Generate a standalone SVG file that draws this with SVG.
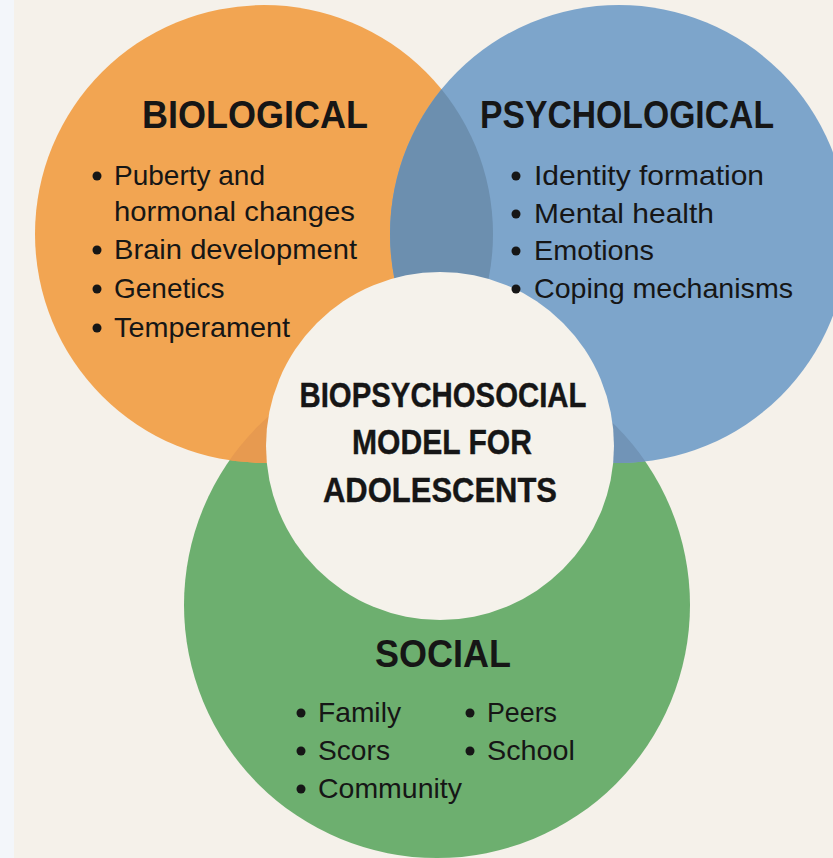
<svg xmlns="http://www.w3.org/2000/svg" width="833" height="858" viewBox="0 0 833 858">
  <style>
    .head { font-family: "Liberation Sans", Arial, sans-serif; font-weight: 700; fill: #161616; }
    .item { font-family: "Liberation Sans", Arial, sans-serif; font-size: 28px; fill: #161616; }
    .core { font-family: "Liberation Sans", Arial, sans-serif; font-weight: 700; font-size: 35px; fill: #161616; stroke: #161616; stroke-width: 0.4; }
    .dot { fill: #161616; }
  </style>
  <defs>
    <clipPath id="clipBio"><circle cx="264" cy="234" r="229"/></clipPath>
    <clipPath id="clipPsy"><circle cx="619" cy="234" r="229"/></clipPath>
  </defs>

  <!-- page -->
  <rect x="0" y="0" width="833" height="858" fill="#F5F1EA"/>
  <rect x="0" y="0" width="14" height="858" fill="#F3F6FA"/>

  <!-- social circle -->
  <g id="social-circle">
    <circle cx="437" cy="605" r="253" fill="#6DAF6F"/>
  </g>

  <!-- biological circle -->
  <g id="biological-circle">
    <circle cx="264" cy="234" r="229" fill="#F2A552"/>
  </g>

  <!-- psychological circle -->
  <g id="psychological-circle">
    <circle cx="619" cy="234" r="229" fill="#7DA5CB"/>
  </g>

  <!-- overlap lenses -->
  <g id="overlaps">
    <circle cx="619" cy="234" r="229" fill="#6C8FAF" clip-path="url(#clipBio)"/>
    <circle cx="437" cy="605" r="253" fill="#E79A50" clip-path="url(#clipBio)"/>
    <circle cx="437" cy="605" r="253" fill="#7194B7" clip-path="url(#clipPsy)"/>
  </g>

  <!-- centre -->
  <g id="center">
    <circle cx="440" cy="446" r="174" fill="#F5F2EB"/>
    <text class="core" x="443" y="407" text-anchor="middle" textLength="287" lengthAdjust="spacingAndGlyphs">BIOPSYCHOSOCIAL</text>
    <text class="core" x="442" y="454" text-anchor="middle" textLength="180" lengthAdjust="spacingAndGlyphs">MODEL FOR</text>
    <text class="core" x="440" y="502" text-anchor="middle" textLength="234" lengthAdjust="spacingAndGlyphs">ADOLESCENTS</text>
  </g>

  <!-- biological labels -->
  <g id="biological">
    <text class="head" x="255" y="128" font-size="38" text-anchor="middle" textLength="226" lengthAdjust="spacingAndGlyphs">BIOLOGICAL</text>
    <circle class="dot" cx="97" cy="176" r="4.5"/>
    <text class="item" x="114" y="185">Puberty and</text>
    <text class="item" x="114" y="221" textLength="241" lengthAdjust="spacingAndGlyphs">hormonal changes</text>
    <circle class="dot" cx="97" cy="250" r="4.5"/>
    <text class="item" x="114" y="259" textLength="243" lengthAdjust="spacingAndGlyphs">Brain development</text>
    <circle class="dot" cx="97" cy="289" r="4.5"/>
    <text class="item" x="114" y="298">Genetics</text>
    <circle class="dot" cx="97" cy="328" r="4.5"/>
    <text class="item" x="114" y="337" textLength="176" lengthAdjust="spacingAndGlyphs">Temperament</text>
  </g>

  <!-- psychological labels -->
  <g id="psychological">
    <text class="head" x="627" y="128" font-size="38" text-anchor="middle" textLength="294" lengthAdjust="spacingAndGlyphs">PSYCHOLOGICAL</text>
    <circle class="dot" cx="516" cy="176" r="4.5"/>
    <text class="item" x="534" y="185" textLength="230" lengthAdjust="spacingAndGlyphs">Identity formation</text>
    <circle class="dot" cx="516" cy="214" r="4.5"/>
    <text class="item" x="534" y="223" textLength="180" lengthAdjust="spacingAndGlyphs">Mental health</text>
    <circle class="dot" cx="516" cy="251" r="4.5"/>
    <text class="item" x="534" y="260" textLength="120" lengthAdjust="spacingAndGlyphs">Emotions</text>
    <circle class="dot" cx="516" cy="289" r="4.5"/>
    <text class="item" x="534" y="298" textLength="259" lengthAdjust="spacingAndGlyphs">Coping mechanisms</text>
  </g>

  <!-- social labels -->
  <g id="social">
    <text class="head" x="443" y="667" font-size="38" text-anchor="middle" textLength="136" lengthAdjust="spacingAndGlyphs">SOCIAL</text>
    <circle class="dot" cx="301" cy="713" r="4.5"/>
    <text class="item" x="318" y="722" textLength="83" lengthAdjust="spacingAndGlyphs">Family</text>
    <circle class="dot" cx="301" cy="751" r="4.5"/>
    <text class="item" x="318" y="760" textLength="72" lengthAdjust="spacingAndGlyphs">Scors</text>
    <circle class="dot" cx="301" cy="789" r="4.5"/>
    <text class="item" x="318" y="798" textLength="144" lengthAdjust="spacingAndGlyphs">Community</text>
    <circle class="dot" cx="470" cy="713" r="4.5"/>
    <text class="item" x="487" y="722" textLength="70" lengthAdjust="spacingAndGlyphs">Peers</text>
    <circle class="dot" cx="470" cy="751" r="4.5"/>
    <text class="item" x="487" y="760" textLength="88" lengthAdjust="spacingAndGlyphs">School</text>
  </g>
</svg>
